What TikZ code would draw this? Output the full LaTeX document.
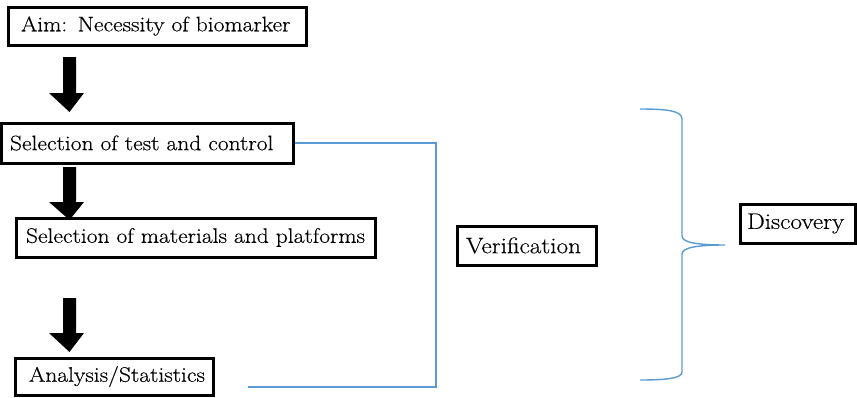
\documentclass[tikz,border=0pt]{standalone}
\usepackage{fontspec}
\setmainfont{Latin Modern Roman}[FakeStretch=1.12,FakeBold=0.35]
\definecolor{linkblue}{RGB}{91,155,213}
\begin{document}
\begin{tikzpicture}[x=1pt,y=-1pt,
  stepbox/.style={draw=black,line width=3pt,inner ysep=0pt,
    minimum height=#1,align=left,font=\fontsize{21}{23}\selectfont},
  stepbox/.default=38pt,
  phasebox/.style={stepbox=#1,font=\fontsize{22.5}{24}\selectfont},
  blockarrow/.style={fill=black},
  bluelink/.style={draw=linkblue,line width=1.4pt}]
\useasboundingbox (0,0) rectangle (857,397);

% step boxes (text width = box width - 2*inner xsep); \mbox keeps each label on one line
\node[stepbox=38pt,inner xsep=13pt,text width=272pt] (aim) at (157,26) {\mbox{Aim: Necessity of biomarker}};
\node[stepbox=40pt,inner xsep=9pt,text width=274pt] (test) at (147,143) {\mbox{Selection of test and control}};
\node[stepbox=39pt,inner xsep=10pt,text width=339pt] (mat) at (195.5,237.5) {\mbox{Selection of materials and platforms}};
\node[stepbox=37pt,inner xsep=14pt,text width=170pt] (ana) at (114,376.5) {\mbox{Analysis/Statistics}};
\node[phasebox=39pt,inner xsep=9pt,text width=121pt] (ver) at (526.5,245.5) {\mbox{Verification}};
\node[phasebox=39pt,inner xsep=7pt,text width=101pt] (dis) at (797.5,223.5) {\mbox{Discovery}};

% block arrows between the steps
\foreach \top/\neck/\tip in {57/93/112, 167/202/220, 298/333/352}{
  \fill[blockarrow] (63,\top) -- (76,\top) -- (76,\neck) -- (84,\neck) -- (69.5,\tip)
    -- (49,\neck) -- (63,\neck) -- cycle;
}

% bracket linking the study steps
\coordinate (anaend) at (248,387);
\draw[bluelink] (test.east) -- (436,143) -- (436,387) -- (anaend);

% curly brace towards discovery
\draw[bluelink] (640,109) .. controls (668,109) and (682,111) .. (682,119)
  -- (682,236) .. controls (682,243) and (700,245) .. (725,245)
  .. controls (700,245) and (682,247) .. (682,254)
  -- (682,372) .. controls (682,378) and (668,380) .. (640,380);
\end{tikzpicture}
\end{document}
